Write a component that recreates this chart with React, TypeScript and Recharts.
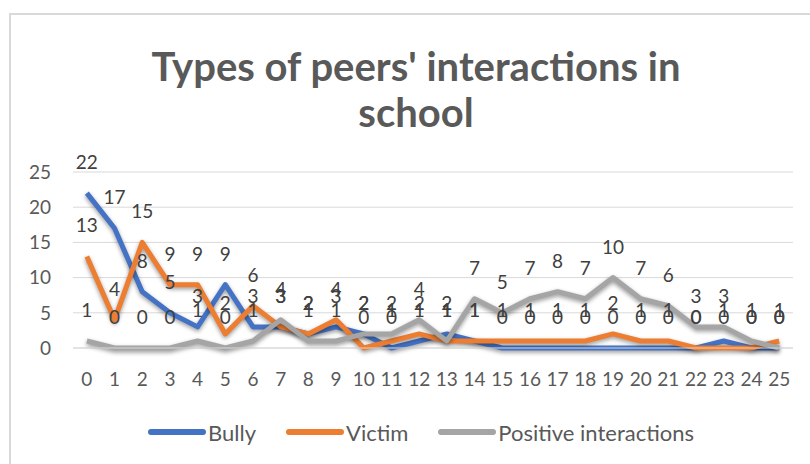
import React from "react";
import { LineChart, Line, XAxis, YAxis, CartesianGrid, LabelList } from "recharts";

const categories = ["0","1","2","3","4","5","6","7","8","9","10","11","12","13","14","15","16","17","18","19","20","21","22","23","24","25"];
const bully = [22,17,8,5,3,9,3,3,2,3,2,0,1,2,1,0,0,0,0,0,0,0,0,1,0,0];
const victim = [13,4,15,9,9,2,6,3,2,4,0,1,2,1,1,1,1,1,1,2,1,1,0,0,0,1];
const positive = [1,0,0,0,1,0,1,4,1,1,2,2,4,1,7,5,7,8,7,10,7,6,3,3,1,0];
const yTicks = [0,5,10,15,20,25];

const seriesNames = ["Bully", "Victim", "Positive interactions"];
const colors = ["#4472C4", "#ED7D31", "#A5A5A5"];

const data = categories.map((c, i) => ({
  cat: c,
  bully: bully[i],
  victim: victim[i],
  positive: positive[i],
}));

const FONT = "Lato, 'Noto Sans', sans-serif";

export default function App() {
  const labelStyle = { fontFamily: FONT, fontSize: 19, fill: "#404040" };
  return (
    <div style={{ position: "absolute", left: 0, top: 0, width: 810, height: 464, background: "#fff", fontFamily: FONT }}>
      <style>{`.recharts-line-curve { filter: drop-shadow(0px 2px 2px rgba(0,0,0,0.4)); }`}</style>
      <div style={{ position: "absolute", left: 9, top: 13, width: 801, height: 2, background: "#d9d9d9" }} />
      <div style={{ position: "absolute", left: 9, top: 13, width: 2, height: 451, background: "#d9d9d9" }} />
      <div style={{ position: "absolute", left: 116, top: 43, width: 600, textAlign: "center", fontFamily: FONT, fontWeight: 700, fontSize: 40, lineHeight: "46px", color: "#595959" }}>
        Types of peers' interactions in<br />school
      </div>
      <div style={{ position: "absolute", left: 0, top: 0 }}>
        <LineChart width={810} height={464} data={data} margin={{ top: 172, right: 17, bottom: 76, left: 0 }}>
          <CartesianGrid vertical={false} stroke="#d9d9d9" strokeWidth={1} />
          <XAxis
            dataKey="cat"
            padding={{ left: 13.85, right: 13.85 }}
            axisLine={{ stroke: "#d9d9d9" }}
            tickLine={false}
            tickSize={0}
            tickMargin={25}
            height={40}
            interval={0}
            tick={{ fontFamily: FONT, fontSize: 19, fill: "#595959" }}
          />
          <YAxis
            domain={[0, 25]}
            ticks={yTicks}
            width={73}
            axisLine={false}
            tickLine={false}
            tickSize={0}
            tickMargin={22}
            tick={{ fontFamily: FONT, fontSize: 19, fill: "#595959" }}
          />
          <Line dataKey="bully" name={seriesNames[0]} stroke={colors[0]} strokeWidth={5} dot={false} isAnimationActive={false} strokeLinejoin="round">
            <LabelList dataKey="bully" position="top" offset={24} style={labelStyle} />
          </Line>
          <Line dataKey="victim" name={seriesNames[1]} stroke={colors[1]} strokeWidth={5} dot={false} isAnimationActive={false} strokeLinejoin="round">
            <LabelList dataKey="victim" position="top" offset={24} style={labelStyle} />
          </Line>
          <Line dataKey="positive" name={seriesNames[2]} stroke={colors[2]} strokeWidth={5} dot={false} isAnimationActive={false} strokeLinejoin="round">
            <LabelList dataKey="positive" position="top" offset={24} style={labelStyle} />
          </Line>
        </LineChart>
      </div>
      <div style={{ position: "absolute", left: 148, top: 418, height: 28, display: "flex", alignItems: "center", fontFamily: FONT, fontSize: 22, color: "#595959" }}>
        {seriesNames.map((n, i) => (
          <div key={n} style={{ display: "flex", alignItems: "center", marginRight: 30 }}>
            <div style={{ width: 58, height: 6, borderRadius: 3, background: colors[i], marginRight: 2 }} />
            <span>{n}</span>
          </div>
        ))}
      </div>
    </div>
  );
}
